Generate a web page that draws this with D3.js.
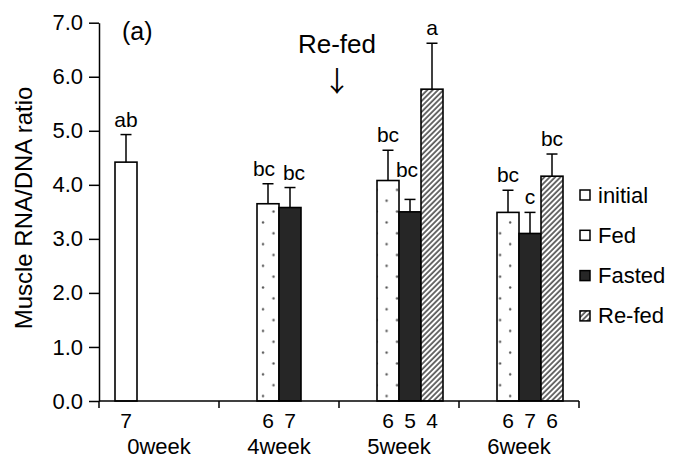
<!DOCTYPE html>
<meta charset="utf-8">
<style>
  body { margin: 0; background: #fff; }
  text { font-family: Arial, "Liberation Sans", sans-serif; fill: #000; }
  .axis path, .axis line { stroke: #000; stroke-width: 1.5; }
</style>
<svg width="674" height="465"></svg>
<script src="https://cdn.jsdelivr.net/npm/d3@7"></script>
<script>

var weeks = ["0week", "4week", "5week", "6week"];
var series = ["initial", "Fed", "Fasted", "Re-fed"];

// mean, SE, n and letters per week (null = no bar)
var initialMean = [4.42, null, null, null];
var fedMean     = [null, 3.65, 4.08, 3.49];
var fastedMean  = [null, 3.58, 3.50, 3.10];
var refedMean   = [null, null, 5.77, 4.16];

var initialErr = [0.51, null, null, null];
var fedErr     = [null, 0.37, 0.56, 0.41];
var fastedErr  = [null, 0.37, 0.23, 0.39];
var refedErr   = [null, null, 0.85, 0.41];

var initialN = [7, null, null, null];
var fedN     = [null, 6, 6, 6];
var fastedN  = [null, 7, 5, 7];
var refedN   = [null, null, 4, 6];

var initialSig = ["ab", null, null, null];
var fedSig     = [null, "bc", "bc", "bc"];
var fastedSig  = [null, "bc", "bc", "c"];
var refedSig   = [null, null, "a", "bc"];

var yTicks = [0, 1, 2, 3, 4, 5, 6, 7];

var means = [initialMean, fedMean, fastedMean, refedMean],
    errs = [initialErr, fedErr, fastedErr, refedErr],
    ns = [initialN, fedN, fastedN, refedN],
    sigs = [initialSig, fedSig, fastedSig, refedSig];

var bars = [];
weeks.forEach(function(w, i) {
  series.forEach(function(s, j) {
    if (means[j][i] == null) return;
    bars.push({week: w, series: s, value: means[j][i], err: errs[j][i], n: ns[j][i], sig: sigs[j][i]});
  });
});

var svg = d3.select("svg");

var x0 = d3.scaleBand().domain(weeks).range([99, 579])
    .paddingInner(32 / 120).paddingOuter(16 / 120);
var x1 = d3.scaleBand().domain(series).range([0, x0.bandwidth()]);
var y = d3.scaleLinear().domain([0, 7]).range([401, 22.7]);

// patterns
var defs = svg.append("defs");
var dots = defs.append("pattern")
    .attr("id", "dots")
    .attr("patternUnits", "userSpaceOnUse")
    .attr("x", x0("4week") + x1("Fed"))
    .attr("y", 0)
    .attr("width", 20.6).attr("height", 21.7);
dots.append("circle").attr("cx", 6).attr("cy", 5.4).attr("r", 1.2).attr("fill", "#555");
dots.append("circle").attr("cx", 16.5).attr("cy", 16.3).attr("r", 1.2).attr("fill", "#555");

var hatch = defs.append("pattern")
    .attr("id", "hatch")
    .attr("patternUnits", "userSpaceOnUse")
    .attr("width", 3.8).attr("height", 3.8)
    .attr("patternTransform", "rotate(45)");
hatch.append("rect").attr("width", 3.8).attr("height", 3.8).attr("fill", "#fff");
hatch.append("line").attr("x1", 1).attr("y1", 0).attr("x2", 1).attr("y2", 3.8)
    .attr("stroke", "#5e5e5e").attr("stroke-width", 1.8);

var fills = {"initial": "#fff", "Fed": "url(#dots)", "Fasted": "#262626", "Re-fed": "url(#hatch)"};
var legendFills = {"initial": "#fff", "Fed": "#fff", "Fasted": "#262626", "Re-fed": "url(#hatch)"};

// bars
var g = svg.append("g");
var bx = function(d) { return x0(d.week) + x1(d.series); };

g.selectAll("rect.bar")
  .data(bars)
  .enter().append("rect")
    .attr("class", "bar")
    .attr("x", bx)
    .attr("y", function(d) { return y(d.value); })
    .attr("width", x1.bandwidth())
    .attr("height", function(d) { return y(0) - y(d.value); })
    .attr("fill", function(d) { return fills[d.series]; })
    .attr("stroke", "#000")
    .attr("stroke-width", 1.6);

// error bars (upper only)
var cx = function(d) { return bx(d) + x1.bandwidth() / 2; };
g.selectAll("line.err")
  .data(bars)
  .enter().append("line")
    .attr("x1", cx).attr("x2", cx)
    .attr("y1", function(d) { return y(d.value); })
    .attr("y2", function(d) { return y(d.value + d.err); })
    .attr("stroke", "#000").attr("stroke-width", 1.5);
g.selectAll("line.cap")
  .data(bars)
  .enter().append("line")
    .attr("x1", function(d) { return cx(d) - 5.5; })
    .attr("x2", function(d) { return cx(d) + 5.5; })
    .attr("y1", function(d) { return y(d.value + d.err); })
    .attr("y2", function(d) { return y(d.value + d.err); })
    .attr("stroke", "#000").attr("stroke-width", 1.5);

// significance letters, a few nudged like the original
var lift = {"5week Fasted": 14};
var nudge = {"4week Fed": -4, "4week Fasted": 4, "5week Fasted": -3};
g.selectAll("text.sig")
  .data(bars)
  .enter().append("text")
    .attr("x", function(d) { return cx(d) + (nudge[d.week + " " + d.series] || 0); })
    .attr("y", function(d) { return y(d.value + d.err) - 8 - (lift[d.week + " " + d.series] || 0); })
    .attr("text-anchor", "middle")
    .style("font-size", "21px")
    .text(function(d) { return d.sig; });

// n below axis
g.selectAll("text.n")
  .data(bars)
  .enter().append("text")
    .attr("x", cx)
    .attr("y", 428)
    .attr("text-anchor", "middle")
    .style("font-size", "21px")
    .text(function(d) { return d.n; });

// y axis
svg.append("g")
    .attr("class", "axis")
    .attr("transform", "translate(99,0)")
    .call(d3.axisLeft(y).tickValues(yTicks).tickFormat(d3.format(".1f"))
      .tickSize(10).tickSizeOuter(0).tickPadding(6))
    .selectAll("text").style("font-size", "22px");

// x axis with boundary ticks
var bounds = weeks.map(function(w) { return x0(w) - x0.step() * x0.paddingOuter(); });
bounds.push(x0.range()[1]);
var xa = svg.append("g").attr("class", "axis");
xa.append("line").attr("x1", x0.range()[0]).attr("x2", x0.range()[1])
    .attr("y1", y(0)).attr("y2", y(0));
xa.selectAll("line.tick")
  .data(bounds)
  .enter().append("line")
    .attr("x1", function(d) { return d; }).attr("x2", function(d) { return d; })
    .attr("y1", y(0)).attr("y2", y(0) + 7);
xa.selectAll("text")
  .data(weeks)
  .enter().append("text")
    .attr("x", function(d) { return x0(d) + x0.bandwidth() / 2; })
    .attr("y", 454)
    .attr("text-anchor", "middle")
    .style("font-size", "22px")
    .text(function(d) { return d; });

// y label
svg.append("text")
    .attr("transform", "translate(32,208) rotate(-90)")
    .attr("text-anchor", "middle")
    .style("font-size", "24px")
    .text("Muscle RNA/DNA ratio");

// panel label and annotation
svg.append("text").attr("x", 122).attr("y", 40).style("font-size", "25px").text("(a)");
var ax = bounds[2] - 2;
svg.append("text").attr("x", ax).attr("y", 53).attr("text-anchor", "middle")
    .style("font-size", "26px").text("Re-fed");
svg.append("text").attr("x", ax).attr("y", 92).attr("text-anchor", "middle")
    .style("font-family", "'Noto Sans CJK JP', sans-serif")
    .style("font-size", "28px").style("fill", "#000").text("\u2193");

// legend
var leg = svg.append("g").selectAll("g")
  .data(series)
  .enter().append("g")
    .attr("transform", function(d, i) { return "translate(580," + (195 + i * 40.3) + ")"; });
leg.append("rect")
    .attr("x", 0).attr("y", -5).attr("width", 10).attr("height", 10)
    .attr("fill", function(d) { return legendFills[d]; })
    .attr("stroke", "#000").attr("stroke-width", 1.5);
leg.append("text")
    .attr("x", 18).attr("y", 7.5)
    .style("font-size", "22px")
    .text(function(d) { return d; });

</script>
